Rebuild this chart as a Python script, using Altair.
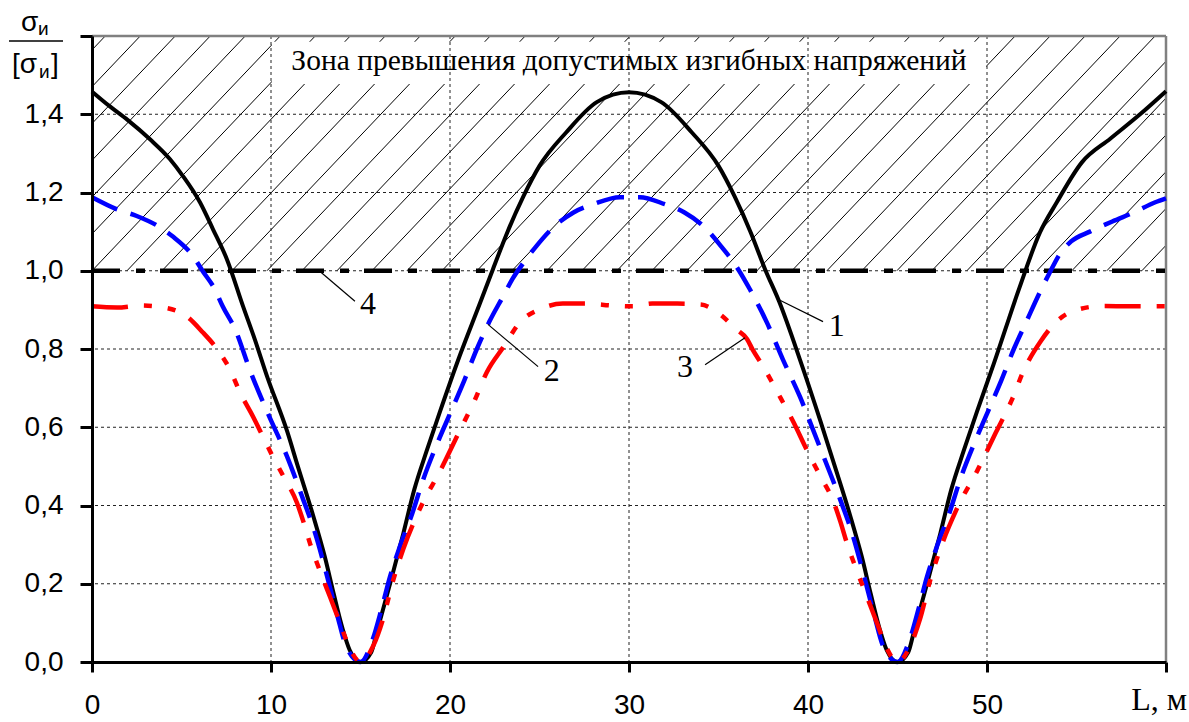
import altair as alt
import pandas as pd

# --- curve 1: solid black ---
c1_x = [0, 1, 2, 3.24, 4.36, 5.08, 6.03, 6.76, 7.54, 8.44, 9.1, 9.78, 10.9, 11.5, 12.35, 13.0,
        13.5, 14.0, 14.4, 15.0, 15.6, 15.9, 16.65, 17.4, 18.0, 18.7, 19.44, 20.4, 21.7, 22.4,
        23.2, 24.1, 25.0, 26.5, 28.2, 30.0, 31.8, 33.5, 35.0, 35.9, 36.8, 37.6, 38.4, 39.55,
        40.7, 41.5, 42.35, 43.0, 43.5, 44.0, 44.4, 45.0, 45.6, 45.9, 46.65, 47.4, 48.0, 48.7,
        49.44, 50.4, 51.8, 52.96, 53.9, 55.3, 56.9, 58.5, 60]
c1_y = [1.458, 1.42, 1.385, 1.336, 1.285, 1.242, 1.175, 1.106, 1.029, 0.909, 0.824, 0.73, 0.59,
        0.50, 0.375, 0.27, 0.175, 0.085, 0.03, 0.0, 0.025, 0.074, 0.2, 0.33, 0.44, 0.54, 0.64,
        0.765, 0.92, 1.004, 1.098, 1.19, 1.268, 1.354, 1.431, 1.456, 1.431, 1.354, 1.268, 1.19,
        1.098, 1.004, 0.92, 0.773, 0.615, 0.50, 0.375, 0.27, 0.175, 0.085, 0.03, 0.0, 0.025,
        0.074, 0.2, 0.33, 0.44, 0.54, 0.64, 0.765, 0.955, 1.098, 1.175, 1.277, 1.338, 1.398,
        1.459]

# --- curve 2: blue dashed ---
c2_x = [0, 1.4, 2.5, 3.8, 4.5, 5.65, 6.2, 6.87, 7.3, 8.0, 8.83, 9.83, 10.9, 11.8, 12.46, 13.1,
        13.7, 14.2, 15.0, 15.7, 16.2, 16.65, 17.2, 17.9, 18.5, 19.3, 20.1, 20.8, 21.5, 22.2,
        22.97, 23.5, 24.1, 24.86, 25.75, 26.9, 28.0, 29.5, 30.6, 32.0, 33.1, 34.25, 35.1, 36.0,
        36.76, 37.7, 38.6, 39.55, 40.5, 41.8, 42.46, 43.1, 43.7, 44.2, 45.0, 45.7, 46.2, 46.65,
        47.2, 47.9, 48.5, 49.3, 50.1, 50.8, 51.5, 52.2, 52.9, 53.5, 54.1, 54.7, 55.75, 57.0,
        58.2, 59.4, 60]
c2_y = [1.188, 1.157, 1.14, 1.111, 1.088, 1.037, 0.998, 0.952, 0.909, 0.85, 0.745, 0.635, 0.525,
        0.415, 0.33, 0.225, 0.12, 0.04, 0.0, 0.06, 0.14, 0.218, 0.295, 0.381, 0.466, 0.56,
        0.645, 0.72, 0.80, 0.87, 0.935, 0.98, 1.02, 1.065, 1.11, 1.149, 1.17, 1.188, 1.188,
        1.17, 1.149, 1.11, 1.065, 1.011, 0.952, 0.868, 0.773, 0.678, 0.568, 0.415, 0.33, 0.225,
        0.12, 0.04, 0.0, 0.06, 0.14, 0.218, 0.295, 0.381, 0.466, 0.56, 0.645, 0.72, 0.80, 0.87,
        0.94, 0.995, 1.045, 1.075, 1.1, 1.126, 1.149, 1.175, 1.185]

# --- curve 3: red dash-dot-dot ---
c3_x = [0, 1.4, 2.7, 4.0, 5.3, 6.2, 6.87, 7.7, 8.27, 9.0, 9.55, 10.1, 10.7, 11.45, 11.8, 12.2,
        12.8, 13.3, 13.85, 14.4, 15.0, 15.7, 16.26, 16.8, 17.4, 18.3, 19.5, 20.5, 21.4, 22.05,
        23.0, 23.9, 25.0, 26.3, 27.6, 29.1, 30.2, 31.3, 32.7, 34.0, 35.1, 36.0, 36.6, 36.9, 37.5,
        38.3, 39.2, 39.9, 40.7, 41.45, 41.8, 42.2, 42.8, 43.3, 43.85, 44.4, 45.0, 45.7, 46.26,
        46.8, 47.4, 48.3, 49.5, 50.5, 51.4, 52.05, 53.0, 54.0, 55.0, 56.5, 58.0, 60.0]
c3_y = [0.909, 0.906, 0.911, 0.906, 0.883, 0.842, 0.807, 0.748, 0.689, 0.627, 0.576, 0.525,
        0.474, 0.407, 0.36, 0.3, 0.225, 0.166, 0.1, 0.035, 0.0, 0.04, 0.11, 0.205, 0.29,
        0.39, 0.493, 0.587, 0.671, 0.74, 0.806, 0.868, 0.901, 0.916, 0.916, 0.911, 0.909, 0.916,
        0.916, 0.914, 0.888, 0.85, 0.825, 0.799, 0.755, 0.689, 0.612, 0.545, 0.474, 0.407, 0.36,
        0.3, 0.225, 0.166, 0.1, 0.035, 0.0, 0.04, 0.11, 0.205, 0.29, 0.39, 0.493, 0.587,
        0.671, 0.745, 0.82, 0.875, 0.9, 0.91, 0.909, 0.909]

# --- line 4: allowable level ---
limit_x = [0, 60]
limit_y = [1.0, 1.0]

# axis ticks / grid
x_ticks = [0, 10, 20, 30, 40, 50, 60]
y_ticks = [0, 0.2, 0.4, 0.6, 0.8, 1.0, 1.2, 1.4, 1.6]
x_grid = [10, 20, 30, 40, 50]
y_grid = [0.2, 0.4, 0.6, 0.8, 1.0, 1.2, 1.4]

# curve number callouts
lead_x1 = [38.32, 22.12, 36.48, 12.74]
lead_y1 = [0.927, 0.863, 0.829, 0.998]
lead_x2 = [40.84, 24.92, 34.25, 14.69]
lead_y2 = [0.870, 0.755, 0.760, 0.922]
tag_text = ["1", "2", "3", "4"]
tag_x = [41.6, 25.68, 33.13, 15.42]
tag_y = [0.858, 0.743, 0.755, 0.914]

zone_text = "Зона превышения допустимых изгибных напряжений"

XMAX, YMAX = 60, 1.6
xs = alt.Scale(domain=[0, XMAX], nice=False, zero=False)
ys = alt.Scale(domain=[0, YMAX], nice=False, zero=False)

x_axis = alt.Axis(
    values=x_ticks, grid=False, title=None, domainColor="black", domainWidth=3,
    tickColor="black", tickWidth=3, tickSize=10, labelFont="Liberation Sans",
    labelFontSize=28, labelColor="black", labelPadding=19, labelFlush=False,
    labelOverlap=False, labelExpr="datum.value >= 60 ? '' : datum.label", zindex=1,
)
y_axis = alt.Axis(
    values=y_ticks, grid=False, title=None, domainColor="black", domainWidth=3,
    tickColor="black", tickWidth=3, tickSize=12, labelFont="Liberation Sans",
    labelFontSize=28, labelColor="black", labelPadding=17, labelFlush=False,
    labelOverlap=False,
    labelExpr="datum.value >= 1.55 ? '' : replace(format(datum.value, '.1f'), '.', ',')",
    zindex=1,
)


def X(field="x"):
    return alt.X(f"{field}:Q", scale=xs, axis=x_axis)


def Y(field="y"):
    return alt.Y(f"{field}:Q", scale=ys, axis=y_axis)


# hatch pattern for the overstress zone (y >= 1.0)
hatch_step = 1.955
hatch_run = 12.47
hx1, hy1, hx2, hy2 = [], [], [], []
for k in range(-7, 32):
    x0 = k * hatch_step
    hx1.append(x0)
    hy1.append(1.0)
    hx2.append(x0 + hatch_run)
    hy2.append(1.6)
hatch_df = pd.DataFrame({"x": hx1, "y": hy1, "x2": hx2, "y2": hy2})

hatch = alt.Chart(hatch_df).mark_rule(color="black", strokeWidth=1, clip=True).encode(
    x=X(), y=Y(), x2="x2:Q", y2="y2:Q"
)

box = alt.Chart(pd.DataFrame({"x": [10.05], "x2": [49.95], "y": [1.477], "y2": [1.585]})).mark_rect(
    fill="white"
).encode(x=X(), x2="x2:Q", y=Y(), y2="y2:Q")

vgrid = alt.Chart(pd.DataFrame({"x": x_grid})).mark_rule(
    color="#222", strokeWidth=1, strokeDash=[3, 3]
).encode(x=X())

hgrid = alt.Chart(pd.DataFrame({"y": y_grid})).mark_rule(
    color="#222", strokeWidth=1, strokeDash=[3, 3]
).encode(y=Y())

zone = alt.Chart(pd.DataFrame({"x": [30.0], "y": [1.536], "t": [zone_text]})).mark_text(
    font="Liberation Serif", fontSize=29.5, color="black", align="center", baseline="middle"
).encode(x=X(), y=Y(), text="t:N")

top_border = alt.Chart(pd.DataFrame({"y": [YMAX]})).mark_rule(
    color="#808080", strokeWidth=2.5
).encode(y=Y())
right_border = alt.Chart(pd.DataFrame({"x": [XMAX]})).mark_rule(
    color="#808080", strokeWidth=2.5
).encode(x=X())

limit = alt.Chart(pd.DataFrame({"x": limit_x, "y": limit_y})).mark_line(
    color="black", strokeWidth=4.5, strokeDash=[28, 16, 9, 15], strokeCap="butt"
).encode(x=X(), y=Y())

curve1 = alt.Chart(pd.DataFrame({"x": c1_x, "y": c1_y})).mark_line(
    color="black", strokeWidth=4, interpolate="monotone"
).encode(x=X(), y=Y(), order="x:Q")

curve2 = alt.Chart(pd.DataFrame({"x": c2_x, "y": c2_y})).mark_line(
    color="#0000ff", strokeWidth=4.5, strokeDash=[28, 14], strokeCap="butt", interpolate="monotone"
).encode(x=X(), y=Y(), order="x:Q")

curve3 = alt.Chart(pd.DataFrame({"x": c3_x, "y": c3_y})).mark_line(
    color="#ff0000", strokeWidth=4.5, strokeDash=[36, 16, 8, 16, 8, 16], strokeCap="butt",
    interpolate="monotone"
).encode(x=X(), y=Y(), order="x:Q")

leaders = alt.Chart(pd.DataFrame({"x": lead_x1, "y": lead_y1, "x2": lead_x2, "y2": lead_y2})).mark_rule(
    color="black", strokeWidth=1.2
).encode(x=X(), y=Y(), x2="x2:Q", y2="y2:Q")

tags = alt.Chart(pd.DataFrame({"x": tag_x, "y": tag_y, "t": tag_text})).mark_text(
    font="Liberation Serif", fontSize=32, color="black", align="center", baseline="middle"
).encode(x=X(), y=Y(), text="t:N")


# y-axis title drawn as a fraction  σи / [σи]
def label(txt, px, py, size, font="Liberation Sans", align="left"):
    return alt.Chart(pd.DataFrame({"t": [txt]})).mark_text(
        font=font, fontSize=size, color="black", align=align, baseline="alphabetic"
    ).encode(x=alt.value(px), y=alt.value(py), text="t:N")


frac_top = label("σ", -71, -5, 28) + label("и", -54, -1, 19)
frac_bar = alt.Chart(pd.DataFrame({"a": [0]})).mark_rule(color="black", strokeWidth=1.7).encode(
    x=alt.value(-83), x2=alt.value(-29), y=alt.value(5), y2=alt.value(5)
)
frac_bot = label("[σ", -80, 37, 28) + label("и", -53, 42, 19) + label("]", -41, 37, 28)
x_title = label("L, м", 1095, 674, 32, font="Liberation Serif", align="right")

chart = alt.layer(
    hatch, box, vgrid, hgrid, zone, top_border, right_border,
    limit, curve1, curve2, curve3, leaders, tags,
    frac_top, frac_bar, frac_bot, x_title,
).properties(
    width=1074,
    height=626,
    padding={"left": 92, "top": 36, "right": 23, "bottom": 60},
    autosize=alt.AutoSizeParams(type="none"),
).configure_view(stroke=None).configure(background="white")

chart.save("out.html", embed_options={"renderer": "svg", "actions": False})
